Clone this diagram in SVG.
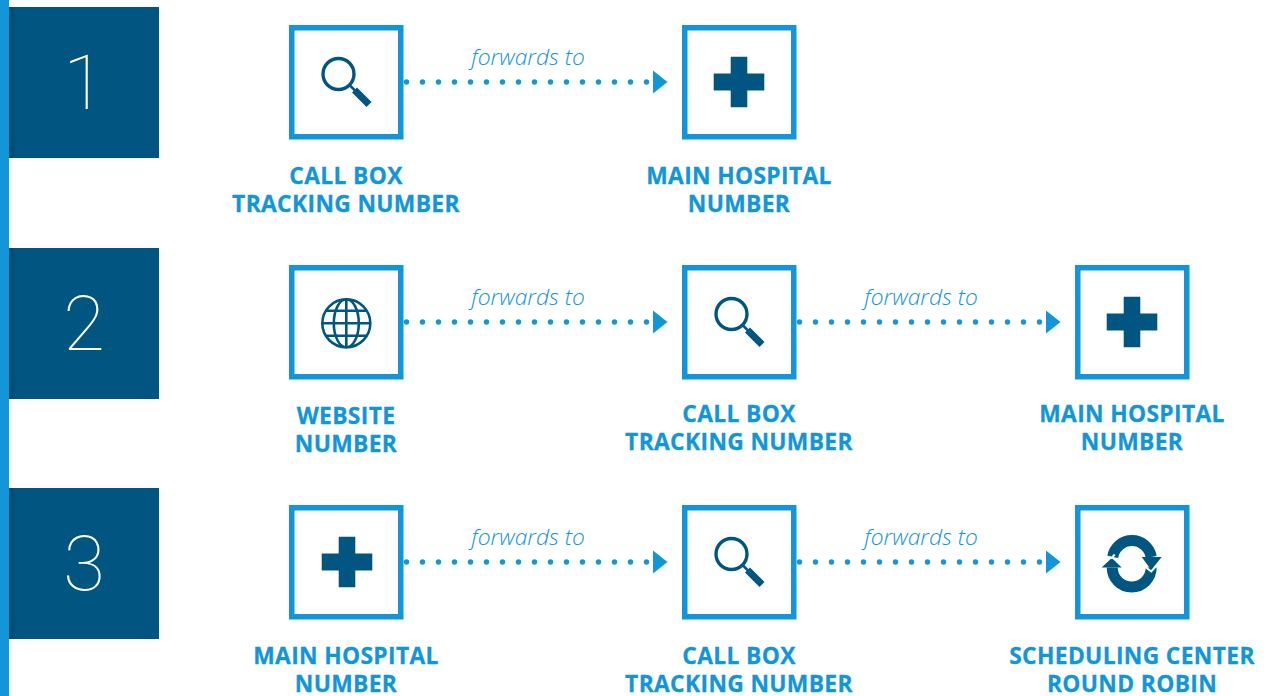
<svg xmlns="http://www.w3.org/2000/svg" xmlns:xlink="http://www.w3.org/1999/xlink" width="1268" height="696" viewBox="0 0 1268 696">
<style>
.box{fill:#fff;stroke:#1296d8;stroke-width:5.5}
.lbl{font-family:"Open Sans","Noto Sans",sans-serif;font-weight:700;font-size:22.800px;letter-spacing:.35px;fill:#1296d8;text-anchor:middle;stroke:#1296d8;stroke-width:.3}
.fw{font-family:"Open Sans","Noto Sans",sans-serif;font-weight:300;font-style:italic;font-size:22.800px;fill:#1296d8;text-anchor:middle}
.num{font-family:Roboto,"Open Sans",sans-serif;font-weight:100;font-size:76px;fill:#fff;text-anchor:middle}
.dark{fill:#005680}
.dots{fill:none;stroke:#1296d8;stroke-width:5.400;stroke-linecap:round;stroke-dasharray:0 16}
.head{fill:#1296d8}
</style>
<defs>
<linearGradient id="edge" x1="0" x2="1" y1="0" y2="0"><stop offset="0" stop-color="#00486c"/><stop offset="1" stop-color="#005680"/></linearGradient>
<g id="conn"><path class="dots" d="M0 0H241"/><path class="head" d="M246.500 -11.500L261 0L246.500 11.500Z"/></g>
<g id="plus"><path class="dark" d="M-8.300 -25.200H8.300V-8.400H25.300V8.600H8.300V25.300H-8.300V8.600H-25.300V-8.400H-8.300Z"/></g>
<g id="mag"><circle cx="-7.500" cy="-8" r="15.500" fill="none" stroke="#005680" stroke-width="3.400"/><path d="M4 3.500L9 8.500" stroke="#005680" stroke-width="2.500" fill="none"/><path d="M8.500 8L23 22.500" stroke="#005680" stroke-width="7" fill="none"/></g>
<g id="globe" fill="none" stroke="#005680" stroke-width="2.600"><circle r="24"/><ellipse rx="12.500" ry="24"/><path d="M0 -24V24M-24 0H24M-20.500 -12.500H20.500M-20.500 12.500H20.500"/></g>
<g id="cycle"><path d="M-19 -5.500A19.500 19.500 0 0 1 19.500 -5.500" fill="none" stroke="#005680" stroke-width="11"/><path d="M19.500 5A19.500 19.500 0 0 1 -19.500 5" fill="none" stroke="#005680" stroke-width="11"/><path d="M10 -5.500H30L19.500 7.500Z" class="dark"/><path d="M-30 5H-10L-20 -4.500Z" class="dark"/><path d="M-25 -6L-20 -4.500L-17 -8M13 4L19.500 9L24 4" fill="none" stroke="#fff" stroke-width="2"/></g>
</defs>
<g id="strip"><rect x="0" y="0" width="9" height="696" fill="#1296d8"/></g>
<g id="step-1"><rect class="dark" x="9" y="7" width="150" height="151"/><rect x="9" y="7" width="8" height="151" fill="url(#edge)"/><text class="num" x="84" y="109">1</text></g>
<g id="step-2"><rect class="dark" x="9" y="248" width="150" height="151"/><rect x="9" y="248" width="8" height="151" fill="url(#edge)"/><text class="num" x="84" y="350">2</text></g>
<g id="step-3"><rect class="dark" x="9" y="488" width="150" height="151"/><rect x="9" y="488" width="8" height="151" fill="url(#edge)"/><text class="num" x="84" y="590">3</text></g>
<g id="connectors">
<use xlink:href="#conn" href="#conn" x="406.500" y="82"/>
<use xlink:href="#conn" href="#conn" x="406.500" y="322"/>
<use xlink:href="#conn" href="#conn" x="799.500" y="322"/>
<use xlink:href="#conn" href="#conn" x="406.500" y="562"/>
<use xlink:href="#conn" href="#conn" x="799.500" y="562"/>
<text class="fw" x="528" y="64.500">forwards to</text>
<text class="fw" x="528" y="304.500">forwards to</text>
<text class="fw" x="921" y="304.500">forwards to</text>
<text class="fw" x="528" y="544.500">forwards to</text>
<text class="fw" x="921" y="544.500">forwards to</text>
</g>
<g id="n1a"><rect class="box" x="291.750" y="27.750" width="109" height="109"/><use href="#mag" x="346" y="82"/><text class="lbl" x="346" y="183.500">CALL BOX</text><text class="lbl" x="346" y="212">TRACKING NUMBER</text></g>
<g id="n1b"><rect class="box" x="684.750" y="27.750" width="109" height="109"/><use href="#plus" x="739" y="82"/><text class="lbl" x="739" y="183.500">MAIN HOSPITAL</text><text class="lbl" x="739" y="212">NUMBER</text></g>
<g id="n2a"><rect class="box" x="291.750" y="267.750" width="109" height="109"/><use href="#globe" x="346.300" y="323.300"/><text class="lbl" x="346" y="423.500">WEBSITE</text><text class="lbl" x="346" y="452">NUMBER</text></g>
<g id="n2b"><rect class="box" x="684.750" y="267.750" width="109" height="109"/><use href="#mag" x="739" y="322"/><text class="lbl" x="739" y="421.500">CALL BOX</text><text class="lbl" x="739" y="450">TRACKING NUMBER</text></g>
<g id="n2c"><rect class="box" x="1077.750" y="267.750" width="109" height="109"/><use href="#plus" x="1132" y="322"/><text class="lbl" x="1132" y="421.500">MAIN HOSPITAL</text><text class="lbl" x="1132" y="450">NUMBER</text></g>
<g id="n3a"><rect class="box" x="291.750" y="507.750" width="109" height="109"/><use href="#plus" x="347" y="562"/><text class="lbl" x="346" y="663.500">MAIN HOSPITAL</text><text class="lbl" x="346" y="691.500">NUMBER</text></g>
<g id="n3b"><rect class="box" x="684.750" y="507.750" width="109" height="109"/><use href="#mag" x="739" y="562"/><text class="lbl" x="739" y="663.500">CALL BOX</text><text class="lbl" x="739" y="691.500">TRACKING NUMBER</text></g>
<g id="n3c"><rect class="box" x="1077.750" y="507.750" width="109" height="109"/><use href="#cycle" x="1131.700" y="562.500"/><text class="lbl" x="1132" y="663.500">SCHEDULING CENTER</text><text class="lbl" x="1132" y="691.500">ROUND ROBIN</text></g>
</svg>
